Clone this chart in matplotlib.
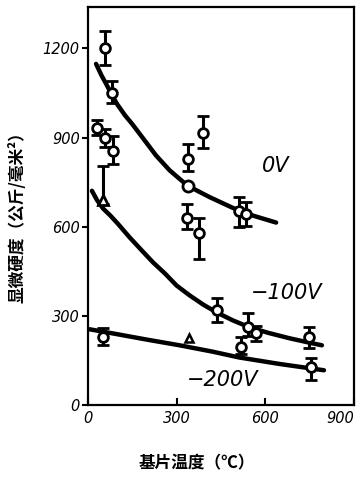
import matplotlib
matplotlib.use("Agg")
import matplotlib.pyplot as plt

plt.rcParams['font.family'] = ['Noto Sans CJK SC', 'DejaVu Sans']

# trend curves (substrate temperature, hardness)
curve_0v_x = [27, 45, 61, 80, 98, 125, 150, 192, 230, 276, 337, 411, 489, 560, 637]
curve_0v_y = [1148, 1110, 1081, 1045, 1013, 975, 945, 890, 840, 790, 738, 700, 664, 637, 614]
curve_100v_x = [13, 30, 51, 75, 101, 140, 182, 220, 260, 300, 344, 390, 435,
                490, 546, 610, 681, 740, 792]
curve_100v_y = [721, 690, 661, 638, 610, 565, 520, 480, 443, 402, 369, 338, 312,
                285, 262, 243, 225, 212, 201]
curve_200v_x = [5, 84, 200, 310, 420, 512, 650, 799]
curve_200v_y = [255, 241, 220, 201, 180, 160, 138, 117]

# measured points with error bars
pts_0v_x = [57, 81, 340, 388, 512, 536]
pts_0v_y = [1200, 1050, 829, 916, 654, 644]
pts_0v_lo = [55, 35, 42, 50, 55, 40]
pts_0v_hi = [60, 40, 50, 55, 45, 40]
pts_0v_open_x = [337]
pts_0v_open_y = [738]

pts_100v_x = [30, 57, 84, 334, 377, 438, 540, 519, 569, 748]
pts_100v_y = [933, 899, 856, 631, 580, 319, 262, 195, 242, 228]
pts_100v_lo = [25, 30, 45, 38, 87, 40, 30, 22, 25, 37]
pts_100v_hi = [25, 30, 50, 47, 48, 40, 47, 33, 25, 34]
tri_100v_x = [51]
tri_100v_y = [690]
tri_100v_lo = [15]
tri_100v_hi = [115]

pts_200v_x = [51, 755]
pts_200v_y = [230, 128]
pts_200v_lo = [28, 44]
pts_200v_hi = [28, 30]
tri_200v_x = [342]
tri_200v_y = [224]

fig = plt.figure(figsize=(3.61, 4.88), dpi=100)
ax = fig.add_axes([0.244, 0.17, 0.736, 0.816])

for cx, cy in [(curve_0v_x, curve_0v_y), (curve_100v_x, curve_100v_y),
               (curve_200v_x, curve_200v_y)]:
    ax.plot(cx, cy, color='black', lw=3.2, solid_capstyle='round',
            solid_joinstyle='round', zorder=2)

err_kw = dict(fmt='o', ms=7, mfc='white', mec='black', mew=2, ecolor='black',
              elinewidth=2.2, capsize=4, capthick=3, zorder=3)
ax.errorbar(pts_0v_x, pts_0v_y, yerr=[pts_0v_lo, pts_0v_hi], **err_kw)
ax.errorbar(pts_100v_x, pts_100v_y, yerr=[pts_100v_lo, pts_100v_hi], **err_kw)
ax.errorbar(pts_200v_x, pts_200v_y, yerr=[pts_200v_lo, pts_200v_hi], **err_kw)
ax.errorbar(tri_100v_x, tri_100v_y, yerr=[tri_100v_lo, tri_100v_hi],
            **{**err_kw, 'fmt': '^'})
ax.plot(pts_0v_open_x, pts_0v_open_y, 'o', ms=8, mfc='white', mec='black', mew=2, zorder=3)
ax.plot(tri_200v_x, tri_200v_y, '^', ms=6, mfc='white', mec='black', mew=1.8, zorder=3)

lab = dict(fontsize=15, style='italic', family='DejaVu Sans', color='black')
ax.text(637, 805, '0V', ha='center', va='center', **lab)
ax.text(671, 376, '−100V', ha='center', va='center', **lab)
ax.text(455, 84, '−200V', ha='center', va='center', **lab)

ax.set_xlim(0, 900)
ax.set_ylim(0, 1340)
ax.set_xticks([0, 300, 600, 900])
ax.set_yticks([0, 300, 600, 900, 1200])
tick_font = dict(family='DejaVu Sans', style='italic', size=10.5)
ax.set_xticklabels(['0', '300', '600', '900'], **tick_font)
ax.set_yticklabels(['0', '300', '600', '900', '1200'], **tick_font)
ax.get_xticklabels()[-1].set_ha('right')
ax.tick_params(axis='x', direction='in', length=5, width=1.5, pad=4)
ax.tick_params(axis='y', direction='out', length=4, width=1.5, pad=2)
for s in ax.spines.values():
    s.set_linewidth(1.6)

fig.text(18 / 361, 0.564, '显微硬度（公斤/毫米²）', rotation=90, ha='center',
         va='center', fontsize=12, fontweight='bold')
fig.text(197 / 361, 0.051, '基片温度（℃）', ha='center', va='center',
         fontsize=12, fontweight='bold')

fig.savefig('out.png', dpi=100)
